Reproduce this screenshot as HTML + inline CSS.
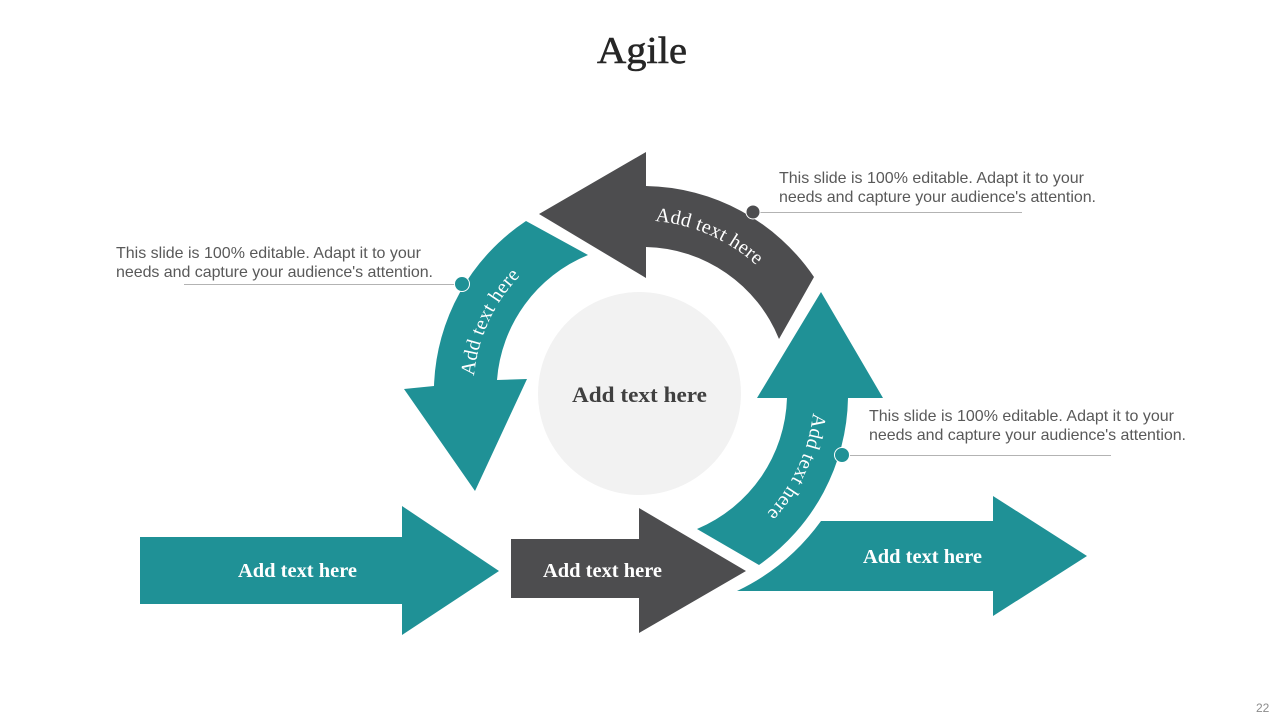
<!DOCTYPE html>
<html lang="en">
<head>
<meta charset="utf-8">
<title>Agile</title>
<style>
html,body{margin:0;padding:0;background:#fff;width:1280px;height:720px;overflow:hidden}
svg{display:block}
.s{font-family:"Liberation Serif",serif}
.b{font-family:"Liberation Sans",sans-serif;font-size:16px;fill:#595959}
</style>
</head>
<body>
<svg width="1280" height="720" viewBox="0 0 1280 720" xmlns="http://www.w3.org/2000/svg">
<defs>
<path id="pTop" d="M655 221 A173 173 0 0 1 790 307"/>
<path id="pLeft" d="M474 376 A168 168 0 0 1 560 245"/>
<path id="pRight" d="M813 413 A175 175 0 0 1 702 557"/>
</defs>
<rect width="1280" height="720" fill="#fff"/>
<text class="s" x="597" y="63" font-size="38" fill="#262626" textLength="90" lengthAdjust="spacingAndGlyphs" stroke="#262626" stroke-width=".6">Agile</text>

<circle cx="639.5" cy="393.5" r="101.5" fill="#f2f2f2"/>
<text class="s" x="572" y="402" font-size="22" font-weight="bold" fill="#404040" textLength="135" lengthAdjust="spacingAndGlyphs">Add text here</text>

<path fill="#4d4d4f" d="M539 214 L646 152 L646 186 A207 207 0 0 1 814 277 L779 339 A147 147 0 0 0 646 247 L646 278 Z"/>
<path fill="#1f9196" d="M526 221 L588 255 A147 147 0 0 0 497 380 L527 379 L475 491 L404 389 L434 386 A206 206 0 0 1 526 221 Z"/>
<path fill="#1f9196" d="M821 292 L883 398 L848 398 A208 208 0 0 1 759 565 L697 529 A147 147 0 0 0 787 398 L757 398 Z"/>
<path fill="#1f9196" d="M737 591 A221 221 0 0 0 821 521 L993 521 L993 496 L1087 556 L993 616 L993 591 Z"/>
<path fill="#1f9196" d="M140 537 L402 537 L402 506 L499 571 L402 635 L402 604 L140 604 Z"/>
<path fill="#4d4d4f" d="M511 539 L639 539 L639 508 L746 571 L639 633 L639 598 L511 598 Z"/>

<g class="s" fill="#fff" font-size="20" letter-spacing=".3">
<text><textPath href="#pTop">Add text here</textPath></text>
<text><textPath href="#pLeft">Add text here</textPath></text>
<text><textPath href="#pRight">Add text here</textPath></text>
</g>
<g class="s" fill="#fff" font-size="20" font-weight="bold">
<text x="238" y="577" textLength="119" lengthAdjust="spacingAndGlyphs">Add text here</text>
<text x="543" y="577" textLength="119" lengthAdjust="spacingAndGlyphs">Add text here</text>
<text x="863" y="563" textLength="119" lengthAdjust="spacingAndGlyphs">Add text here</text>
</g>

<g stroke="#b3b3b3" stroke-width="1">
<line x1="753" y1="212.5" x2="1022" y2="212.5"/>
<line x1="184" y1="284.5" x2="462" y2="284.5"/>
<line x1="842" y1="455.5" x2="1111" y2="455.5"/>
</g>
<circle cx="753" cy="212" r="7" fill="#4d4d4f" stroke="#fff" stroke-width="1"/>
<circle cx="462" cy="284" r="7.5" fill="#1f9196" stroke="#fff" stroke-width="1"/>
<circle cx="842" cy="455" r="7.5" fill="#1f9196" stroke="#fff" stroke-width="1"/>

<text class="b" x="116" y="258" textLength="305">This slide is 100% editable. Adapt it to your</text>
<text class="b" x="116" y="277" textLength="317">needs and capture your audience's attention.</text>
<text class="b" x="779" y="183" textLength="305">This slide is 100% editable. Adapt it to your</text>
<text class="b" x="779" y="202" textLength="317">needs and capture your audience's attention.</text>
<text class="b" x="869" y="421" textLength="305">This slide is 100% editable. Adapt it to your</text>
<text class="b" x="869" y="440" textLength="317">needs and capture your audience's attention.</text>

<text x="1256" y="712" font-family="'Liberation Sans',sans-serif" font-size="12" fill="#8c8c8c">22</text>
</svg>
</body>
</html>
